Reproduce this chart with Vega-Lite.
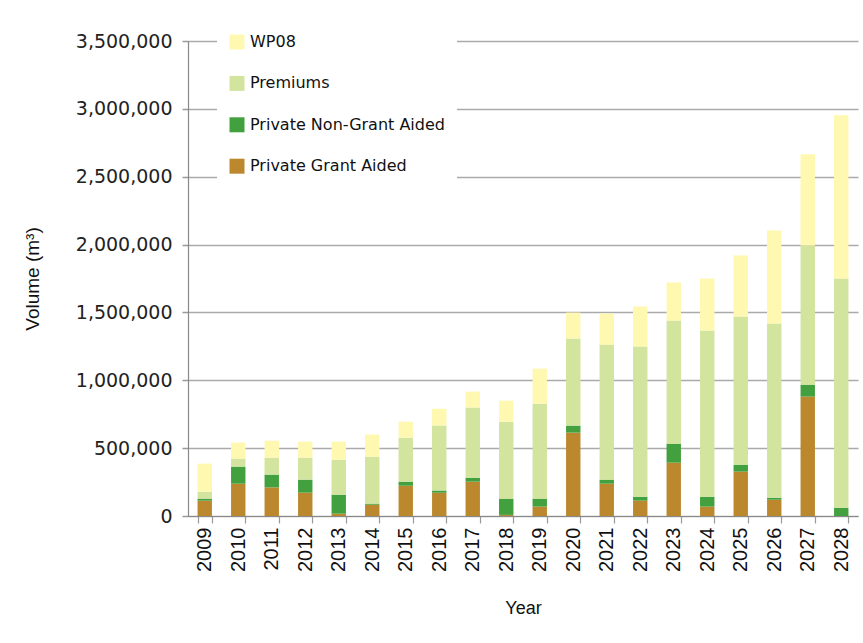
{
  "$schema": "https://vega.github.io/schema/vega-lite/v6.json",
  "width": 670,
  "height": 475,
  "autosize": {"type": "none"},
  "padding": {"left": 188, "top": 41, "right": 5, "bottom": 127},
  "background": "white",
  "config": {"view": {"stroke": null}},
  "data": {"values": [
    {"year": "2009", "series": "Private Grant Aided", "value": 113000},
    {"year": "2009", "series": "Private Non-Grant Aided", "value": 15000},
    {"year": "2009", "series": "Premiums", "value": 51000},
    {"year": "2009", "series": "WP08", "value": 207000},
    {"year": "2010", "series": "Private Grant Aided", "value": 238000},
    {"year": "2010", "series": "Private Non-Grant Aided", "value": 126000},
    {"year": "2010", "series": "Premiums", "value": 59000},
    {"year": "2010", "series": "WP08", "value": 118000},
    {"year": "2011", "series": "Private Grant Aided", "value": 211000},
    {"year": "2011", "series": "Private Non-Grant Aided", "value": 94000},
    {"year": "2011", "series": "Premiums", "value": 125000},
    {"year": "2011", "series": "WP08", "value": 125000},
    {"year": "2012", "series": "Private Grant Aided", "value": 172000},
    {"year": "2012", "series": "Private Non-Grant Aided", "value": 96000},
    {"year": "2012", "series": "Premiums", "value": 162000},
    {"year": "2012", "series": "WP08", "value": 118000},
    {"year": "2013", "series": "Private Grant Aided", "value": 17000},
    {"year": "2013", "series": "Private Non-Grant Aided", "value": 140000},
    {"year": "2013", "series": "Premiums", "value": 258000},
    {"year": "2013", "series": "WP08", "value": 133000},
    {"year": "2014", "series": "Private Grant Aided", "value": 83000},
    {"year": "2014", "series": "Private Non-Grant Aided", "value": 8000},
    {"year": "2014", "series": "Premiums", "value": 346000},
    {"year": "2014", "series": "WP08", "value": 163000},
    {"year": "2015", "series": "Private Grant Aided", "value": 223000},
    {"year": "2015", "series": "Private Non-Grant Aided", "value": 30000},
    {"year": "2015", "series": "Premiums", "value": 324000},
    {"year": "2015", "series": "WP08", "value": 118000},
    {"year": "2016", "series": "Private Grant Aided", "value": 172000},
    {"year": "2016", "series": "Private Non-Grant Aided", "value": 15000},
    {"year": "2016", "series": "Premiums", "value": 479000},
    {"year": "2016", "series": "WP08", "value": 125000},
    {"year": "2017", "series": "Private Grant Aided", "value": 253000},
    {"year": "2017", "series": "Private Non-Grant Aided", "value": 29000},
    {"year": "2017", "series": "Premiums", "value": 517000},
    {"year": "2017", "series": "WP08", "value": 118000},
    {"year": "2018", "series": "Private Grant Aided", "value": 8000},
    {"year": "2018", "series": "Private Non-Grant Aided", "value": 120000},
    {"year": "2018", "series": "Premiums", "value": 567000},
    {"year": "2018", "series": "WP08", "value": 155000},
    {"year": "2019", "series": "Private Grant Aided", "value": 69000},
    {"year": "2019", "series": "Private Non-Grant Aided", "value": 59000},
    {"year": "2019", "series": "Premiums", "value": 700000},
    {"year": "2019", "series": "WP08", "value": 258000},
    {"year": "2020", "series": "Private Grant Aided", "value": 614000},
    {"year": "2020", "series": "Private Non-Grant Aided", "value": 52000},
    {"year": "2020", "series": "Premiums", "value": 642000},
    {"year": "2020", "series": "WP08", "value": 191000},
    {"year": "2021", "series": "Private Grant Aided", "value": 238000},
    {"year": "2021", "series": "Private Non-Grant Aided", "value": 30000},
    {"year": "2021", "series": "Premiums", "value": 995000},
    {"year": "2021", "series": "WP08", "value": 229000},
    {"year": "2022", "series": "Private Grant Aided", "value": 113000},
    {"year": "2022", "series": "Private Non-Grant Aided", "value": 29000},
    {"year": "2022", "series": "Premiums", "value": 1107000},
    {"year": "2022", "series": "WP08", "value": 295000},
    {"year": "2023", "series": "Private Grant Aided", "value": 393000},
    {"year": "2023", "series": "Private Non-Grant Aided", "value": 140000},
    {"year": "2023", "series": "Premiums", "value": 907000},
    {"year": "2023", "series": "WP08", "value": 281000},
    {"year": "2024", "series": "Private Grant Aided", "value": 69000},
    {"year": "2024", "series": "Private Non-Grant Aided", "value": 73000},
    {"year": "2024", "series": "Premiums", "value": 1225000},
    {"year": "2024", "series": "WP08", "value": 383000},
    {"year": "2025", "series": "Private Grant Aided", "value": 327000},
    {"year": "2025", "series": "Private Non-Grant Aided", "value": 51000},
    {"year": "2025", "series": "Premiums", "value": 1092000},
    {"year": "2025", "series": "WP08", "value": 450000},
    {"year": "2026", "series": "Private Grant Aided", "value": 120000},
    {"year": "2026", "series": "Private Non-Grant Aided", "value": 15000},
    {"year": "2026", "series": "Premiums", "value": 1283000},
    {"year": "2026", "series": "WP08", "value": 686000},
    {"year": "2027", "series": "Private Grant Aided", "value": 880000},
    {"year": "2027", "series": "Private Non-Grant Aided", "value": 88000},
    {"year": "2027", "series": "Premiums", "value": 1025000},
    {"year": "2027", "series": "WP08", "value": 672000},
    {"year": "2028", "series": "Private Grant Aided", "value": 0},
    {"year": "2028", "series": "Private Non-Grant Aided", "value": 61000},
    {"year": "2028", "series": "Premiums", "value": 1689000},
    {"year": "2028", "series": "WP08", "value": 1202000}
  ]},
  "transform": [
    {"calculate": "indexof(['Private Grant Aided', 'Private Non-Grant Aided', 'Premiums', 'WP08'], datum.series)", "as": "stackOrder"}
  ],
  "mark": {"type": "bar"},
  "encoding": {
    "x": {
      "field": "year", "type": "ordinal",
      "scale": {"paddingInner": 0.57, "paddingOuter": 0.285},
      "axis": {
        "title": "Year", "titleFont": "Liberation Sans, Arial, sans-serif", "titleFontSize": 18, "titleFontWeight": "normal",
        "titleColor": "#111", "titlePadding": 28,
        "labelAngle": -90, "labelFont": "Liberation Sans, Arial, sans-serif", "labelFontSize": 20, "labelColor": "#111",
        "labelPadding": 4, "tickSize": 7, "tickBand": "extent", "tickColor": "#999", "tickWidth": 1.2,
        "domainColor": "#888", "domainWidth": 1.2, "grid": false
      }
    },
    "y": {
      "field": "value", "type": "quantitative", "stack": "zero",
      "scale": {"domain": [0, 3500000], "nice": false},
      "axis": {
        "title": "Volume (m³)", "titleFont": "Liberation Sans, Arial, sans-serif", "titleFontSize": 19, "titleFontWeight": "normal",
        "titleColor": "#111", "titlePadding": 33,
        "values": [0, 500000, 1000000, 1500000, 2000000, 2500000, 3000000, 3500000],
        "format": ",.0f", "labelFont": "DejaVu Sans", "labelFontSize": 19, "labelColor": "#222",
        "labelPadding": 10, "tickSize": 6, "tickColor": "#999", "tickWidth": 1.5,
        "domainColor": "#888", "domainWidth": 1.2,
        "grid": true, "gridColor": "#aaa", "gridWidth": 1.5
      }
    },
    "order": {"field": "stackOrder", "type": "quantitative", "sort": "ascending"},
    "color": {
      "field": "series", "type": "nominal",
      "scale": {
        "domain": ["WP08", "Premiums", "Private Non-Grant Aided", "Private Grant Aided"],
        "range": ["#fff8b0", "#d2e49e", "#42a13e", "#bb882e"]
      },
      "legend": {
        "title": null, "orient": "none", "legendX": 29, "legendY": -19,
        "fillColor": "white", "padding": 12,
        "symbolType": "square", "symbolSize": 225, "symbolStrokeWidth": 0, "symbolOpacity": 1,
        "labelFont": "DejaVu Sans", "labelFontSize": 16, "labelColor": "#111", "labelOffset": 5,
        "rowPadding": 25.4, "labelLimit": 300
      }
    }
  }
}
